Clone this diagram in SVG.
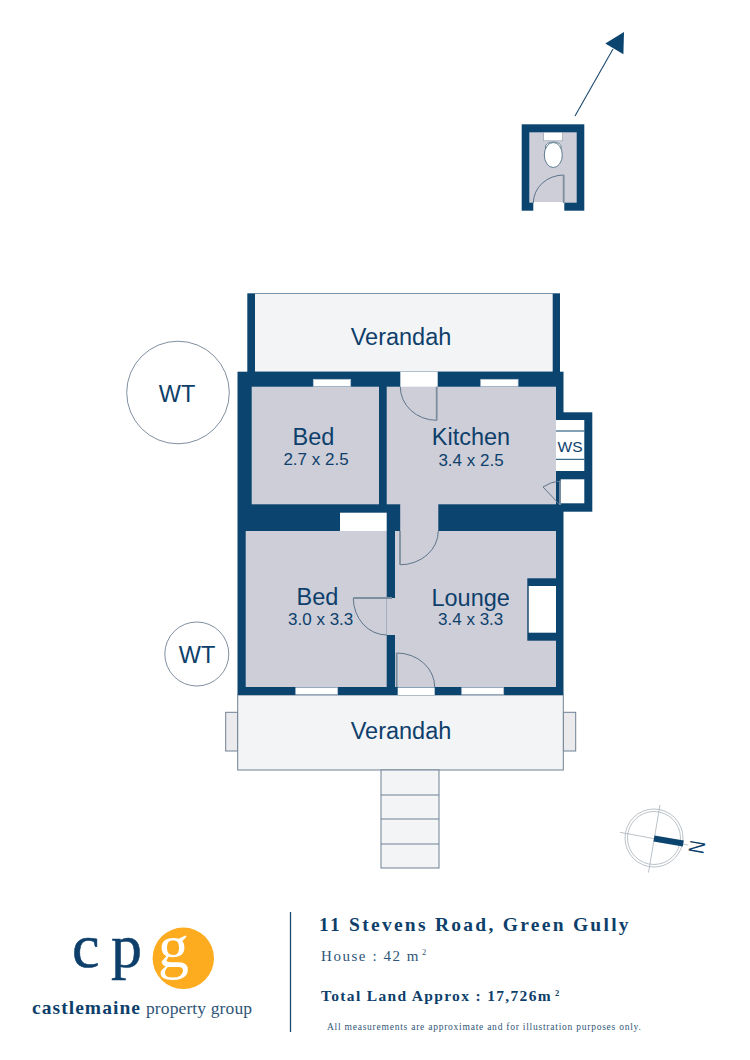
<svg xmlns="http://www.w3.org/2000/svg" width="750" height="1060" viewBox="0 0 750 1060">
<style>
.wall{fill:#0b446f}
.room{fill:#cdced8}
.white{fill:#fff}
.win{fill:#fff;stroke:#b9c4d0;stroke-width:.7}
.door{fill:none;stroke:#5f7489;stroke-width:1}
.leaf{fill:none;stroke:#7d8e9e;stroke-width:1.8}
.ver{fill:#f3f4f6;stroke:#6f8193;stroke-width:1}
.lab{font-family:"Liberation Sans",Arial,sans-serif;fill:#0e3f6b;text-anchor:middle;font-size:23.5px}
.dim{font-family:"Liberation Sans",Arial,sans-serif;fill:#0e3f6b;text-anchor:middle;font-size:17px}
.ser{font-family:"Liberation Serif","Times New Roman",serif;fill:#0e3f6b}
</style>
<rect width="750" height="1060" fill="#fff"/>
<g id="connectors">
<line x1="575" y1="116" x2="613" y2="49" stroke="#1d4a70" stroke-width="1.1"/>
<polygon points="624,32 605.3,43.5 623.4,54.3" class="wall"/>
</g>
<g id="toilet">
<rect x="521.7" y="124.3" width="62.6" height="86.4" class="wall"/>
<rect x="529.3" y="132.3" width="47.4" height="70.4" class="room"/>
<rect x="533.3" y="202" width="31" height="9" class="white"/>
<rect x="543.7" y="132.3" width="19" height="8.5" class="white" stroke="#8a9aaa" stroke-width=".6"/>
<ellipse cx="553.3" cy="147" rx="8" ry="5" class="white" stroke="#4e7083" stroke-width=".8"/>
<ellipse cx="553.3" cy="155" rx="9" ry="12.5" class="white" stroke="#4e7083" stroke-width=".9"/>
<path d="M533.3 203A30.5 28 0 0 1 563.7 175" class="door"/>
<line x1="563.7" y1="175" x2="563.7" y2="203" class="leaf"/>
</g>
<g id="verandah-rear">
<rect x="247.3" y="293.3" width="312.7" height="80" class="wall"/>
<rect x="255" y="293.8" width="297.7" height="78" fill="#f3f4f6"/>
<text x="401" y="344.5" class="lab">Verandah</text>
</g>
<g id="verandah-front">
<rect x="225.7" y="712.3" width="12" height="38.7" fill="#ebebed" stroke="#6f8193" stroke-width="1"/>
<rect x="563.3" y="712.3" width="12.4" height="38.7" fill="#ebebed" stroke="#6f8193" stroke-width="1"/>
<rect x="237.7" y="695" width="325.6" height="75" class="ver"/>
<text x="401" y="738.5" class="lab">Verandah</text>
</g>
<g id="steps">
<rect x="381" y="770" width="58" height="98" fill="#f3f4f6" stroke="#6f8193" stroke-width="1"/>
<path d="M381 795H439M381 819H439M381 844H439" stroke="#6f8193" stroke-width="1" fill="none"/>
</g>
<g id="walls">
<rect x="237.5" y="371.7" width="326" height="323.3" class="wall"/>
<rect x="556" y="412.3" width="36.3" height="99.4" class="wall"/>
</g>
<g id="ws">
<rect x="556" y="420" width="28.3" height="51" class="white"/>
<path d="M556 431H584.3M556 459.3H584.3" stroke="#0b446f" stroke-width="1"/>
<rect x="560.7" y="479.3" width="23.6" height="24" class="white"/>
<text x="570" y="451.7" class="dim" style="font-size:15.5px">WS</text>
</g>
<g id="bed-north">
<rect x="251.7" y="386.7" width="127.3" height="117.6" class="room"/>
<rect x="313.3" y="379.3" width="37.4" height="7" class="win"/>
<text x="313.5" y="445" class="lab">Bed</text>
<text x="316" y="465" class="dim">2.7 x 2.5</text>
</g>
<g id="kitchen">
<rect x="386.7" y="386.7" width="169.3" height="117.6" class="room"/>
<rect x="480.7" y="379.3" width="37.4" height="7" class="win"/>
<rect x="400.3" y="371.7" width="37.4" height="15.2" class="white"/>
<path d="M400.3 386.7A36.4 33.5 0 0 0 436.7 420.3" class="door"/>
<line x1="436.7" y1="386.7" x2="436.7" y2="420.3" class="leaf"/>
<path d="M543 487L560 505M543 487Q551 481.5 560 481" class="door" fill="none"/>
<line x1="560" y1="481" x2="560" y2="505" class="leaf"/>
<text x="471" y="445" class="lab">Kitchen</text>
<text x="471" y="466" class="dim">3.4 x 2.5</text>
</g>
<g id="bed-south">
<rect x="245.7" y="531" width="141" height="156" class="room"/>
<rect x="340" y="512.7" width="46.7" height="18.3" class="white"/>
<rect x="386.7" y="598" width="9" height="37" class="room"/>
<rect x="295.7" y="687.7" width="42" height="6.6" class="win"/>
<path d="M353.3 598A33.4 37 0 0 0 386.7 635" class="door"/>
<line x1="353.3" y1="598" x2="392" y2="598" class="leaf"/>
<text x="317.5" y="605" class="lab">Bed</text>
<text x="320.7" y="625" class="dim">3.0 x 3.3</text>
</g>
<g id="lounge">
<rect x="395" y="531" width="161" height="156" class="room"/>
<rect x="400.2" y="504" width="38.1" height="28" class="room"/>
<rect x="527.3" y="578.3" width="28.7" height="62.4" class="wall"/>
<rect x="528.7" y="586" width="27.3" height="46.7" class="white"/>
<rect x="397.7" y="687.5" width="37" height="7.5" class="white"/>
<rect x="461.7" y="687.7" width="42" height="6.6" class="win"/>
<path d="M400 564.8A38.3 33.8 0 0 0 438.3 531" class="door"/>
<line x1="400" y1="531" x2="400" y2="564.8" class="leaf"/>
<path d="M396.7 653A38 34 0 0 1 434.7 687" class="door"/>
<line x1="396.7" y1="653" x2="396.7" y2="687" class="leaf"/>
<text x="470.7" y="605.5" class="lab">Lounge</text>
<text x="470.7" y="625" class="dim">3.4 x 3.3</text>
</g>
<g id="tree-1">
<circle cx="178" cy="392.5" r="51.3" fill="#fff" stroke="#5f7286" stroke-width=".8"/>
<text x="177" y="402" class="lab">WT</text>
</g>
<g id="tree-2">
<circle cx="196.8" cy="654" r="32" fill="#fff" stroke="#5f7286" stroke-width=".8"/>
<text x="197" y="663" class="lab">WT</text>
</g>
<g id="compass">
<circle cx="654" cy="838" r="29" fill="none" stroke="#a9b2ba" stroke-width=".8"/>
<circle cx="654" cy="838" r="26.5" fill="none" stroke="#a9b2ba" stroke-width=".8"/>
<path d="M660 805L648.5 872.5M620 832.3L688 845" stroke="#a9b2ba" stroke-width=".8" fill="none"/>
<line x1="654" y1="838.5" x2="683.3" y2="843.5" stroke="#0b446f" stroke-width="6"/>
<text transform="translate(690.5 839.5) rotate(100) scale(.8 1)" style="font-family:'Liberation Sans',Arial,sans-serif;font-size:22px;fill:#0e3f6b">N</text>
</g>
<g id="logo">
<circle cx="183.3" cy="958.3" r="30.7" fill="#fdab1f"/>
<text x="72" y="966.5" class="ser" style="font-size:62px;stroke:#0e3f6b;stroke-width:.5px">c</text>
<text x="111" y="966.5" class="ser" style="font-size:62px;stroke:#0e3f6b;stroke-width:.5px">p</text>
<text x="158" y="966.5" style="font-family:'Liberation Serif',serif;font-size:62px;fill:#fff">g</text>
<text x="32" y="1014" class="ser" style="font-size:19.5px;font-weight:bold" textLength="108">castlemaine</text>
<text x="146" y="1014" class="ser" style="font-size:17.5px;fill:#2f5578" textLength="106">property group</text>
</g>
<g id="info">
<line x1="290.5" y1="912" x2="290.5" y2="1032" stroke="#1d4a70" stroke-width="1.3"/>
<text x="319" y="931" class="ser" style="font-size:19.5px;font-weight:bold;letter-spacing:2.27px">11 Stevens Road, Green Gully</text>
<text x="321" y="961" class="ser" style="font-size:15px;fill:#2f5578;letter-spacing:1.55px">House : 42 m</text>
<text x="422" y="955" class="ser" style="font-size:8.5px;fill:#2f5578">2</text>
<text x="321" y="1001" class="ser" style="font-size:15.5px;font-weight:bold;letter-spacing:1.33px">Total Land Approx : 17,726m</text>
<text x="555" y="996" class="ser" style="font-size:8.5px;font-weight:bold">2</text>
<text x="327" y="1030" class="ser" style="font-size:9.5px;fill:#2f5578;letter-spacing:.76px">All measurements are approximate and for illustration purposes only.</text>
</g>
</svg>
